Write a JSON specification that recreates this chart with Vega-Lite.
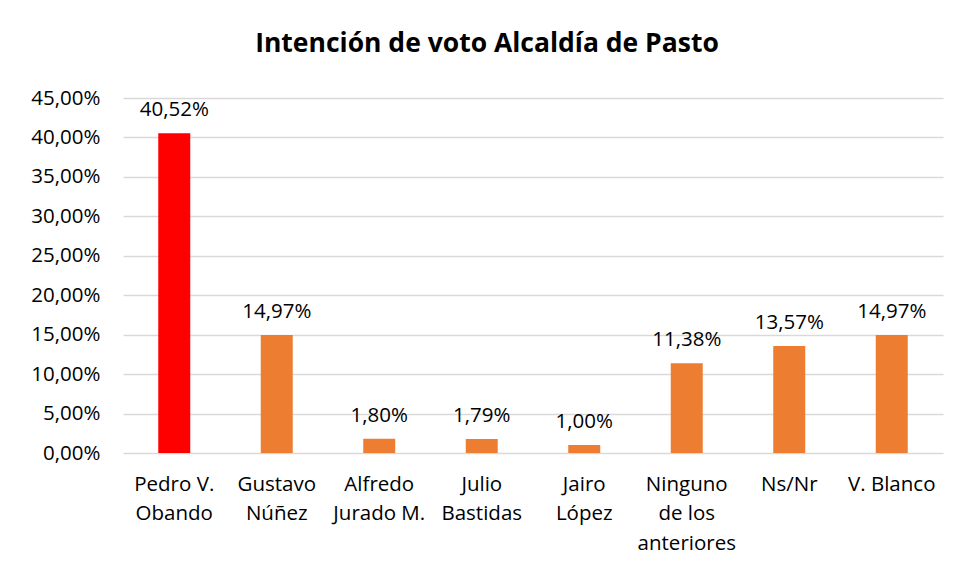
{
  "$schema": "https://vega.github.io/schema/vega-lite/v6.json",
  "width": 820,
  "height": 355,
  "autosize": {"type": "none"},
  "padding": {"left": 123, "top": 98, "right": 13, "bottom": 122},
  "background": "white",
  "config": {
    "view": {"stroke": null},
    "font": "Open Sans",
    "locale": {"number": {"decimal": ",", "thousands": ".", "grouping": [3], "currency": ["$", ""]}}
  },
  "title": {
    "text": "Intención de voto Alcaldía de Pasto",
    "font": "Open Sans",
    "fontSize": 26.5,
    "fontWeight": "bold",
    "color": "#000000",
    "anchor": "middle",
    "dx": -46,
    "offset": 31
  },
  "data": {
    "values": [
      {"candidato": "Pedro V. Obando", "voto": 0.4052},
      {"candidato": "Gustavo Núñez", "voto": 0.1497},
      {"candidato": "Alfredo Jurado M.", "voto": 0.018},
      {"candidato": "Julio Bastidas", "voto": 0.0179},
      {"candidato": "Jairo López", "voto": 0.01},
      {"candidato": "Ninguno de los anteriores", "voto": 0.1138},
      {"candidato": "Ns/Nr", "voto": 0.1357},
      {"candidato": "V. Blanco", "voto": 0.1497}
    ]
  },
  "encoding": {
    "x": {
      "field": "candidato",
      "type": "nominal",
      "sort": null,
      "scale": {"paddingInner": 0.688, "paddingOuter": 0.344},
      "axis": {
        "title": null,
        "labelAngle": 0,
        "labelFont": "Open Sans",
        "labelFontSize": 20.5,
        "labelColor": "#000000",
        "labelPadding": 21,
        "labelLineHeight": 29.5,
        "labelBaseline": "top",
        "ticks": false,
        "domain": false,
        "labelExpr": "datum.value == 'Pedro V. Obando' ? ['Pedro V.', 'Obando'] : datum.value == 'Gustavo Núñez' ? ['Gustavo', 'Núñez'] : datum.value == 'Alfredo Jurado M.' ? ['Alfredo', 'Jurado M.'] : datum.value == 'Julio Bastidas' ? ['Julio', 'Bastidas'] : datum.value == 'Jairo López' ? ['Jairo', 'López'] : datum.value == 'Ninguno de los anteriores' ? ['Ninguno', 'de los', 'anteriores'] : datum.value"
      }
    },
    "y": {
      "field": "voto",
      "type": "quantitative",
      "scale": {"domain": [0, 0.45], "nice": false},
      "axis": {
        "title": null,
        "format": ".2%",
        "values": [0, 0.05, 0.1, 0.15, 0.2, 0.25, 0.3, 0.35, 0.4, 0.45],
        "labelFont": "Open Sans",
        "labelFontSize": 20.5,
        "labelColor": "#000000",
        "labelPadding": 23,
        "ticks": false,
        "domain": false,
        "grid": true,
        "gridColor": "#D9D9D9",
        "gridWidth": 1.5
      }
    }
  },
  "layer": [
    {
      "mark": {"type": "bar"},
      "encoding": {
        "color": {
          "condition": {"test": "datum.candidato == 'Pedro V. Obando'", "value": "#FF0000"},
          "value": "#ED7D31"
        }
      }
    },
    {
      "mark": {"type": "text", "baseline": "alphabetic", "dy": -17, "font": "Open Sans", "fontSize": 20.5, "color": "#000000"},
      "encoding": {
        "text": {"field": "voto", "type": "quantitative", "format": ".2%"}
      }
    }
  ]
}
